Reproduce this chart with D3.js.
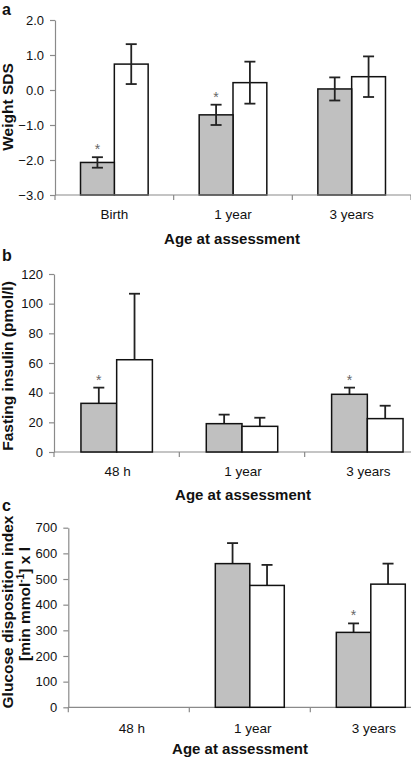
<!DOCTYPE html>
<html>
<head>
<meta charset="utf-8">
<script src="https://cdn.jsdelivr.net/npm/d3@7/dist/d3.min.js"></script>
<style>
  html, body { margin: 0; padding: 0; background: #fff; }
  svg { display: block; font-family: "Liberation Sans", Arial, sans-serif; }
</style>
</head>
<body>
<svg id="chart" width="411" height="758"></svg>
<script>
// ---- Panel a: Weight SDS ----
const catsA = ["Birth", "1 year", "3 years"];
const weightGrey = [-2.07, -0.71, 0.03];
const weightGreyErr = [0.15, 0.29, 0.33];
const weightWhite = [0.74, 0.21, 0.38];
const weightWhiteErr = [0.57, 0.60, 0.58];
const weightStar = [true, true, false];
const weightTicks = [-3, -2, -1, 0, 1, 2];

// ---- Panel b: Fasting insulin ----
const catsB = ["48 h", "1 year", "3 years"];
const insulinGrey = [32.8, 19.1, 38.9];
const insulinGreyErr = [10.6, 6.1, 4.5];
const insulinWhite = [62.2, 17.3, 22.5];
const insulinWhiteErr = [44.5, 5.8, 8.7];
const insulinStar = [true, false, true];
const insulinTicks = [0, 20, 40, 60, 80, 100, 120];

// ---- Panel c: Glucose disposition index ----
const catsC = ["48 h", "1 year", "3 years"];
const gdiGrey = [null, 560, 292];
const gdiGreyErr = [null, 80, 35];
const gdiWhite = [null, 475, 480];
const gdiWhiteErr = [null, 80, 80];
const gdiStar = [false, false, true];
const gdiTicks = [0, 100, 200, 300, 400, 500, 600, 700];

const svg = d3.select("#chart");
const GREY = "#c0c0c0";
const AXIS = "#8a8a8a";

function drawPanel(p) {
  const g = svg.append("g");
  const x0 = d3.scaleBand().domain(p.cats).range([p.left, p.right]).padding(0);
  const bw = x0.bandwidth();
  const gw = bw * 0.57;
  const x1 = d3.scaleBand().domain(["grey", "white"]).range([(bw - gw) / 2, (bw + gw) / 2]).padding(0);
  const y = d3.scaleLinear().domain(p.domain).range([p.bottom, p.top]);
  const base = p.domain[0];

  // panel letter
  g.append("text").attr("x", 2).attr("y", p.letterY).attr("font-size", 16).attr("font-weight", "bold")
    .attr("fill", "#111").text(p.letter);

  // y axis
  const yAxis = d3.axisLeft(y).tickValues(p.ticks).tickSize(5).tickSizeOuter(0).tickPadding(6).tickFormat(p.fmt);
  const ya = g.append("g").attr("transform", `translate(${p.left},0)`).call(yAxis);
  ya.select(".domain").attr("stroke", AXIS).attr("stroke-width", 1.2);
  ya.selectAll(".tick line").attr("stroke", AXIS).attr("stroke-width", 1.2);
  ya.selectAll(".tick text").attr("font-size", 13).attr("fill", "#111")
    .attr("font-family", "Liberation Sans, Arial, sans-serif");

  // x axis baseline
  g.append("line").attr("x1", p.left).attr("x2", p.right).attr("y1", y(base)).attr("y2", y(base))
    .attr("stroke", AXIS).attr("stroke-width", 1.2);
  // boundary ticks
  const bounds = p.cats.map(c => x0(c)).concat([x0(p.cats[p.cats.length - 1]) + bw]);
  g.selectAll(".xt").data(bounds).join("line")
    .attr("x1", d => d).attr("x2", d => d).attr("y1", y(base)).attr("y2", y(base) + 5)
    .attr("stroke", AXIS).attr("stroke-width", 1.2);
  // category labels
  g.selectAll(".xl").data(p.cats).join("text")
    .attr("x", d => x0(d) + bw / 2 + p.labelShift).attr("y", y(base) + p.labelDy)
    .attr("text-anchor", "middle").attr("font-size", 13.5).attr("fill", "#111").text(d => d);
  // x title
  g.append("text").attr("x", p.titleX).attr("y", y(base) + p.titleDy).attr("text-anchor", "middle")
    .attr("font-size", 15).attr("font-weight", "bold").attr("fill", "#111").text("Age at assessment");

  // bars
  const series = [
    { key: "grey", vals: p.grey, errs: p.greyErr, fill: GREY },
    { key: "white", vals: p.white, errs: p.whiteErr, fill: "#ffffff" }
  ];
  series.forEach(s => {
    p.cats.forEach((c, i) => {
      const v = s.vals[i];
      if (v === null) return;
      const xl = x0(c) + x1(s.key);
      const w = x1.bandwidth();
      const cx = xl + w / 2;
      const e = s.errs[i];
      const lo = p.bothErr ? v - e : v;
      g.append("line").attr("x1", cx).attr("x2", cx).attr("y1", y(v + e)).attr("y2", y(lo))
        .attr("stroke", "#222").attr("stroke-width", 1.8);
      g.append("line").attr("x1", cx - 5.5).attr("x2", cx + 5.5).attr("y1", y(v + e)).attr("y2", y(v + e))
        .attr("stroke", "#222").attr("stroke-width", 1.8);
      if (p.bothErr) {
        g.append("line").attr("x1", cx - 5.5).attr("x2", cx + 5.5).attr("y1", y(v - e)).attr("y2", y(v - e))
          .attr("stroke", "#222").attr("stroke-width", 1.8);
      }
      g.insert("rect", p.bothErr ? ":first-child" : null)
        .attr("x", xl).attr("y", y(v)).attr("width", w).attr("height", y(base) - y(v))
        .attr("fill", s.fill).attr("stroke", "#111").attr("stroke-width", 1.5);
      if (s.key === "grey" && p.star[i]) {
        g.append("text").attr("x", cx).attr("y", y(v + e) - 3).attr("text-anchor", "middle")
          .attr("font-size", 14).attr("fill", "#666").text("*");
      }
    });
  });
  return { g, y };
}

// Panel a
const pa = drawPanel({
  letter: "a", letterY: 15, cats: catsA, left: 55, right: 411, top: 20, bottom: 195,
  domain: [-3, 2], ticks: weightTicks, fmt: d3.format(".1f"),
  grey: weightGrey, greyErr: weightGreyErr, white: weightWhite, whiteErr: weightWhiteErr,
  star: weightStar, bothErr: true, labelDy: 24, labelShift: 0, titleX: 232, titleDy: 49
});
pa.g.append("text").attr("transform", "translate(13,107) rotate(-90)").attr("text-anchor", "middle")
  .attr("font-size", 15.5).attr("font-weight", "bold").attr("fill", "#111").text("Weight SDS");

// Panel b
const pb = drawPanel({
  letter: "b", letterY: 261, cats: catsB, left: 54, right: 430, top: 274, bottom: 452,
  domain: [0, 120], ticks: insulinTicks, fmt: d3.format("d"),
  grey: insulinGrey, greyErr: insulinGreyErr, white: insulinWhite, whiteErr: insulinWhiteErr,
  star: insulinStar, bothErr: false, labelDy: 24, labelShift: 1, titleX: 243, titleDy: 48
});
pb.g.append("text").attr("transform", "translate(13,366) rotate(-90)").attr("text-anchor", "middle")
  .attr("font-size", 15.5).attr("font-weight", "bold").attr("fill", "#111").text("Fasting insulin (pmol/l)");

// Panel c
const pc = drawPanel({
  letter: "c", letterY: 511, cats: catsC, left: 68.3, right: 431.3, top: 527.7, bottom: 707.3,
  domain: [0, 700], ticks: gdiTicks, fmt: d3.format("d"),
  grey: gdiGrey, greyErr: gdiGreyErr, white: gdiWhite, whiteErr: gdiWhiteErr,
  star: gdiStar, bothErr: false, labelDy: 26, labelShift: 3, titleX: 240, titleDy: 47
});
pc.g.append("text").attr("transform", "translate(13,612) rotate(-90)").attr("text-anchor", "middle")
  .attr("font-size", 15.5).attr("font-weight", "bold").attr("fill", "#111").text("Glucose disposition index");
const l2 = pc.g.append("text").attr("transform", "translate(30,604) rotate(-90)").attr("text-anchor", "middle")
  .attr("font-size", 15.5).attr("font-weight", "bold").attr("fill", "#111");
l2.append("tspan").text("[min mmol");
l2.append("tspan").attr("font-size", 10).attr("dy", -6).text("-1");
l2.append("tspan").attr("dy", 6).text("] x l");
</script>
</body>
</html>
